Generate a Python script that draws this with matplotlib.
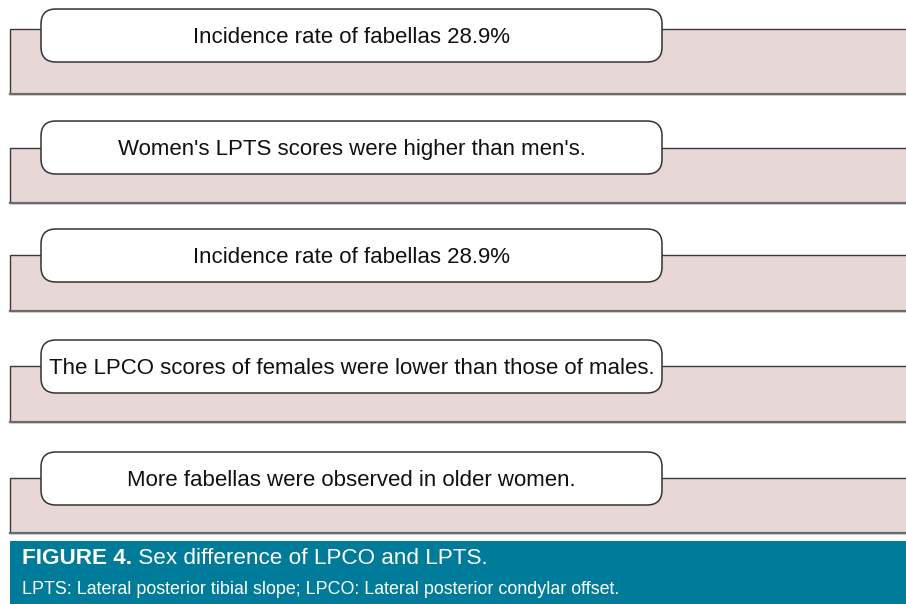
import matplotlib.pyplot as plt
from matplotlib.patches import Rectangle, FancyBboxPatch

plt.rcParams['font.family'] = ['Liberation Sans', 'DejaVu Sans']

labels = [
    "Incidence rate of fabellas 28.9%",
    "Women's LPTS scores were higher than men's.",
    "Incidence rate of fabellas 28.9%",
    "The LPCO scores of females were lower than those of males.",
    "More fabellas were observed in older women.",
]
caption_title = "FIGURE 4."
caption_text = " Sex difference of LPCO and LPTS."
caption_note = "LPTS: Lateral posterior tibial slope; LPCO: Lateral posterior condylar offset."

# pixel layout (top of box, top of band, bottom of band)
box_top = [9, 121, 229, 340, 452]
band_top = [29, 148, 255, 366, 478]
band_bot = [94, 203, 311, 422, 533]

fig = plt.figure(figsize=(9.06, 6.04), dpi=100)
ax = fig.add_axes([0, 0, 1, 1])
ax.set_xlim(0, 906)
ax.set_ylim(604, 0)
ax.axis('off')

pink = '#e8d7d7'
for i, txt in enumerate(labels):
    ax.add_patch(Rectangle((10, band_top[i]), 900, band_bot[i] - band_top[i],
                           facecolor=pink, edgecolor='#3a3a3a', lw=1.0))
    ax.plot([10, 906], [band_bot[i], band_bot[i]], color='#6e6a6a', lw=1.6)
    ax.add_patch(FancyBboxPatch((41 + 15, box_top[i] + 15), 621 - 30, 53 - 30,
                                boxstyle='round,pad=15', facecolor='white',
                                edgecolor='#333333', lw=1.1))
    ax.text(351.5, box_top[i] + 28.5, txt, ha='center', va='center',
            fontsize=16, color='#111111')

# caption bar
ax.add_patch(Rectangle((10, 541), 900, 70, facecolor='#007b9a', edgecolor='none'))
t = ax.text(22, 558, caption_title, ha='left', va='center', fontsize=16.2,
            fontweight='bold', color='white')
fig.canvas.draw()
bb = t.get_window_extent()
x1 = ax.transData.inverted().transform((bb.x1, bb.y0))[0]
ax.text(x1, 558, caption_text, ha='left', va='center', fontsize=16.2, color='white')
ax.text(22, 590, caption_note, ha='left', va='center', fontsize=12.9, color='white')

plt.savefig('out.png', dpi=100)
